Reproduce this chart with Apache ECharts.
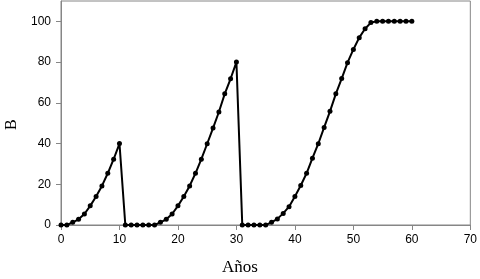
<!DOCTYPE html>
<html>
<head>
<meta charset="utf-8">
<script src="https://cdn.jsdelivr.net/npm/echarts@6/dist/echarts.min.js"></script>
<style>
html, body { margin: 0; padding: 0; background: #fff; }
#chart_id { width: 480px; height: 279px; }
</style>
</head>
<body>
<div id="chart_id"></div>
<script>
// datos
var years = [0, 1, 2, 3, 4, 5, 6, 7, 8, 9, 10,
  11, 12, 13, 14, 15, 16, 17, 18, 19, 20,
  21, 22, 23, 24, 25, 26, 27, 28, 29, 30,
  31, 32, 33, 34, 35, 36, 37, 38, 39, 40,
  41, 42, 43, 44, 45, 46, 47, 48, 49, 50,
  51, 52, 53, 54, 55, 56, 57, 58, 59, 60];
var bValues = [0, 0, 1.3, 2.8, 5.4, 9.4, 14, 19.2, 25.4, 32.3, 40,
  0, 0, 0, 0, 0, 0, 1.3, 2.8, 5.4, 9.4,
  14, 19.2, 25.4, 32.3, 39.9, 47.6, 55.5, 64.4, 71.8, 80,
  0, 0, 0, 0, 0, 1.3, 3, 5.7, 9, 14,
  19.4, 25.4, 32.8, 39.9, 47.9, 55.8, 64.4, 71.9, 79.7, 86.2,
  92, 96.4, 99.4, 100, 100, 100, 100, 100, 100, 100];
var yTicks = [0, 20, 40, 60, 80, 100];
var xName = 'Años';
var yName = 'B';

var chart = echarts.init(document.getElementById('chart_id'));
var option = {
  animation: false,
  grid: {
    left: 61,
    right: 8,
    top: 1,
    bottom: 54,
    show: true,
    borderColor: '#868686',
    borderWidth: 1
  },
  xAxis: {
    type: 'value',
    min: 0,
    max: 70,
    interval: 10,
    axisLine: { show: true, lineStyle: { color: '#868686' } },
    axisTick: { show: true, length: 5, lineStyle: { color: '#868686' } },
    axisLabel: { color: '#000', fontSize: 12, fontFamily: 'Liberation Sans', margin: 9 },
    splitLine: { show: false }
  },
  yAxis: {
    type: 'value',
    min: 0,
    max: 110,
    axisLine: { show: true, lineStyle: { color: '#868686' } },
    axisTick: { show: true, length: 5, customValues: yTicks, lineStyle: { color: '#868686' } },
    axisLabel: { color: '#000', fontSize: 12, fontFamily: 'Liberation Sans', margin: 10, customValues: yTicks },
    splitLine: { show: false }
  },
  graphic: [
    {
      type: 'text',
      left: 'center',
      x: 240,
      top: 259,
      style: { text: xName, fill: '#000', font: '17px "Liberation Serif"', textAlign: 'center' }
    },
    {
      type: 'text',
      x: 4,
      y: 130,
      rotation: Math.PI / 2,
      style: { text: yName, fill: '#000', font: '16px "Liberation Serif"' }
    }
  ],
  series: [
    {
      type: 'line',
      data: years.map(function (x, i) { return [x, bValues[i]]; }),
      symbol: 'circle',
      symbolSize: 5,
      lineStyle: { color: '#000', width: 2 },
      itemStyle: { color: '#000' }
    }
  ]
};
chart.setOption(option);
</script>
</body>
</html>
